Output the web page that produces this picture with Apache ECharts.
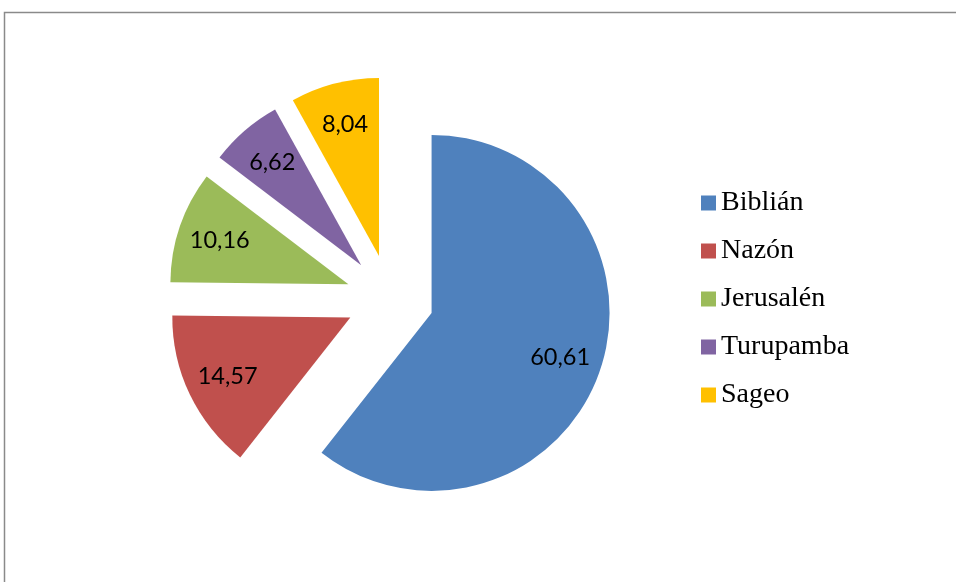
<!DOCTYPE html>
<html>
<head>
<meta charset="utf-8">
<script src="https://cdn.jsdelivr.net/npm/echarts@6/dist/echarts.min.js"></script>
<style>
html,body{margin:0;padding:0;background:#fff;}
#chart{width:956px;height:582px;}
</style>
</head>
<body>
<div id="chart"></div>
<script>
const categories = ['Biblián', 'Nazón', 'Jerusalén', 'Turupamba', 'Sageo'];
const values = [60.61, 14.57, 10.16, 6.62, 8.04];
const colors = ['#4F81BD', '#C0504D', '#9BBB59', '#8064A2', '#FFC000'];

const fmt = v => v.toFixed(2).replace('.', ',');

const sliceData = categories.map((name, i) => ({
  name: name, value: values[i], selected: true,
  itemStyle: { color: colors[i] }
}));
const labelData = categories.map((name, i) => ({
  name: name, value: values[i], selected: true
}));

const chart = echarts.init(document.getElementById('chart'), null, { renderer: 'canvas' });
chart.setOption({
  animation: false,
  backgroundColor: '#ffffff',
  graphic: [{
    type: 'rect',
    shape: { x: 4.5, y: 12.5, width: 1200, height: 1200 },
    style: { fill: 'none', stroke: '#8a8a8a', lineWidth: 1.5 },
    silent: true, z: -10
  }],
  legend: {
    orient: 'vertical',
    left: 701,
    top: 189,
    padding: 0,
    icon: 'rect',
    itemWidth: 15,
    itemHeight: 15,
    itemGap: 20,
    selectedMode: false,
    data: categories,
    textStyle: { fontFamily: 'Liberation Serif', fontSize: 28, color: '#000' }
  },
  series: [
    {
      type: 'pie',
      center: [390, 298.5],
      radius: [0, 178],
      startAngle: 90,
      clockwise: true,
      selectedMode: 'multiple',
      selectedOffset: 44,
      avoidLabelOverlap: false,
      silent: true,
      emphasis: { disabled: true, scale: false },
      label: { show: false },
      labelLine: { show: false },
      data: sliceData
    },
    {
      type: 'pie',
      center: [390, 298.5],
      radius: [88, 178],
      startAngle: 90,
      clockwise: true,
      selectedMode: 'multiple',
      selectedOffset: 44,
      avoidLabelOverlap: false,
      silent: true,
      emphasis: { disabled: true, scale: false },
      itemStyle: { color: 'rgba(0,0,0,0)' },
      label: {
        show: true,
        position: 'inside',
        fontFamily: 'Lato',
        fontSize: 23.5,
        color: '#000',
        formatter: p => fmt(p.value)
      },
      labelLine: { show: false },
      data: labelData
    }
  ]
});
</script>
</body>
</html>
